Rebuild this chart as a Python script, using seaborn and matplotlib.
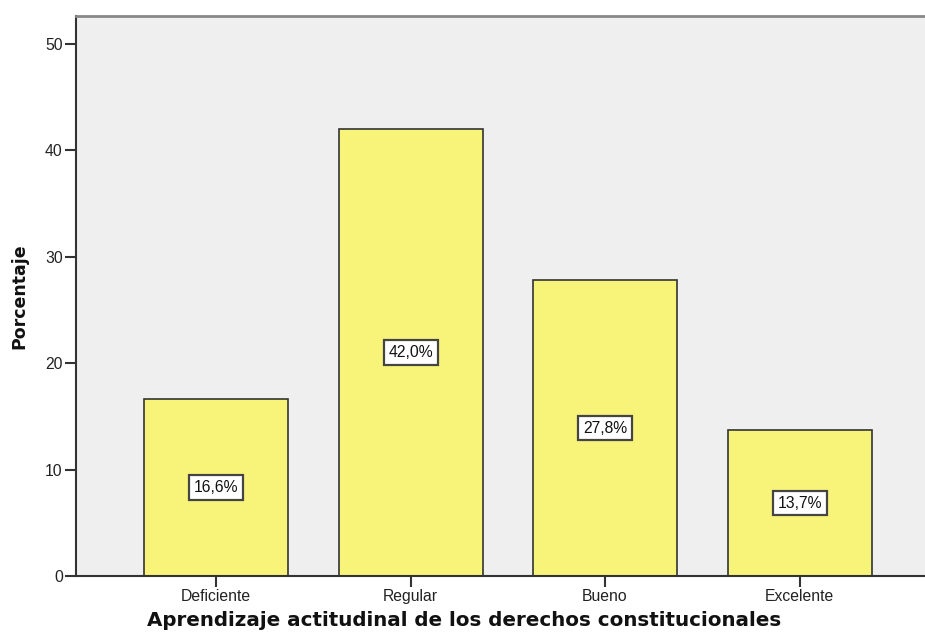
import matplotlib
matplotlib.use("Agg")
import matplotlib.pyplot as plt
import seaborn as sns
import pandas as pd

categories = ["Deficiente", "Regular", "Bueno", "Excelente"]
values = [16.6, 42.0, 27.8, 13.7]
labels = ["16,6%", "42,0%", "27,8%", "13,7%"]
yticks = [0, 10, 20, 30, 40, 50]

sns.set_style("white")
plt.rcParams['font.family'] = ['Liberation Sans', 'DejaVu Sans']

df = pd.DataFrame({"cat": categories, "val": values})

fig = plt.figure(figsize=(9.25, 6.37), dpi=100)
ax = fig.add_axes([76/925, 61/637, (925-76)/925, 560/637])
ax.set_facecolor("#EFEFEF")

sns.barplot(data=df, x="cat", y="val", ax=ax, color="#F8F47A", saturation=1,
            width=0.74, edgecolor="#333333", linewidth=1.2)

ax.set_xlim(-0.72, 3.645)
ax.set_ylim(0, 52.6)
ax.set_yticks(yticks)
ax.set_yticklabels([str(t) for t in yticks])

for i, (v, lab) in enumerate(zip(values, labels)):
    ax.text(i, v / 2, lab, ha="center", va="center", fontsize=11.3, color="#111111",
            bbox=dict(boxstyle="square,pad=0.3", facecolor="white", edgecolor="#444444", linewidth=1.6))

for s in ["left", "bottom"]:
    ax.spines[s].set_color("#333333")
    ax.spines[s].set_linewidth(1.5)
ax.spines["top"].set_color("#888888")
ax.spines["top"].set_linewidth(2)
ax.spines["right"].set_visible(False)

ax.tick_params(axis="both", which="major", length=8, width=1.5, color="#333333",
               labelsize=11.3, pad=1.5, labelcolor="#222222")
ax.tick_params(axis="y", left=True)
ax.tick_params(axis="x", bottom=True)

ax.set_xlabel("")
ax.set_ylabel("")
fig.text(464/925, 1 - 620/637, "Aprendizaje actitudinal de los derechos constitucionales",
         fontsize=14.3, fontweight="bold", family="DejaVu Sans", color="#111111",
         ha="center", va="center")
fig.text(19/925, 1 - 296/637, "Porcentaje", rotation=90,
         fontsize=12.5, fontweight="bold", family="DejaVu Sans", color="#111111",
         ha="center", va="center")

fig.savefig("out.png", dpi=100)
